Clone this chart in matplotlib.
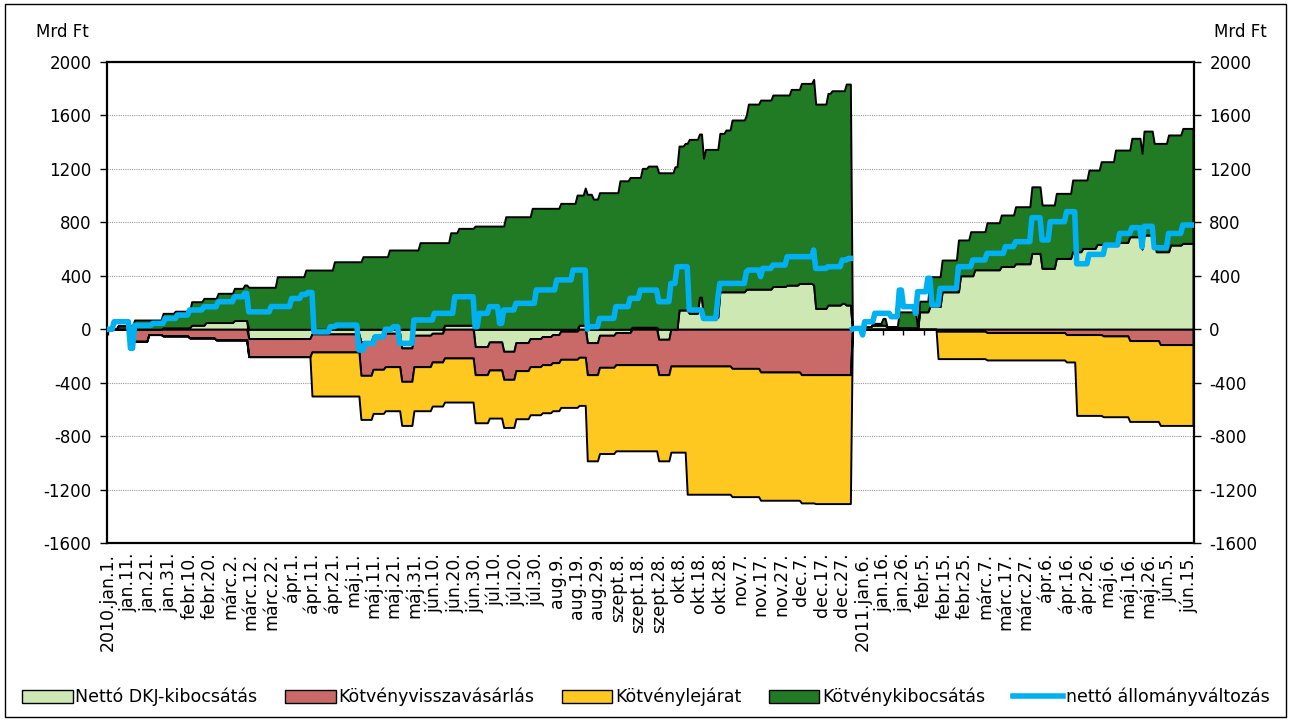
import numpy as np
import matplotlib.pyplot as plt
from matplotlib.patches import Patch, Rectangle
from matplotlib.lines import Line2D

plt.rcParams['font.family'] = ['DejaVu Sans']
plt.rcParams['axes.unicode_minus'] = False

# napok 2010.01.01-tol (0) 2011.06.17-ig (532), kumulalt ertekek, Mrd Ft
napok = np.arange(533)

dkj_nap = [0, 5, 13, 27, 41, 48, 62, 69, 100, 124, 130, 136, 144, 150, 159, 165,
           180, 187, 194, 200, 207, 213, 218, 222, 231, 235, 241, 249, 257, 270,
           276, 280, 285, 290, 292, 300, 313, 326, 333, 339, 346, 347, 353, 360, 362,
           365, 366, 375, 382, 388, 397, 398, 403, 409, 418, 425, 438, 445, 453,
           458, 465, 473, 478, 485, 494, 501, 507, 508, 514, 521, 527]
dkj_ertek = [0, 25, 0, 10, 30, 50, 65, -70, -35, -95, -50, -30, -140, -45, -30, 30,
             -130, -95, -165, -100, -70, -55, -40, -15, 30, -100, -45, -25, 15, -75,
             0, 144, 120, 240, 90, 280, 300, 320, 330, 343, 331, 156, 181, 194, 181,
             0, 20, 30, 15, 12, 0, 130, 170, 280, 400, 445, 470, 490, 568,
             456, 530, 580, 605, 635, 650, 692, 600, 705, 580, 630, 643]

kib_nap = [0, 5, 13, 27, 33, 41, 47, 48, 54, 62, 67, 69, 83, 97, 111, 125, 138,
           153, 165, 168, 172, 180, 195, 208, 222, 230, 231, 234, 235, 238, 241,
           251, 256, 257, 262, 265, 270, 278, 280, 283, 285, 290, 292, 293, 300,
           303, 306, 313, 314, 320, 326, 333, 335, 339, 340, 346, 347, 353, 355,
           360, 362,
           365, 375, 380, 382, 388, 397, 398, 403, 409, 417, 418, 423, 425, 431,
           438, 445, 453, 458, 465, 473, 478, 481, 485, 487, 494, 501, 502, 507,
           508, 513, 514, 520, 521, 527]
kib_ertek = [0, 0, 69, 109, 125, 176, 201, 181, 219, 241, 266, 314, 393, 443, 505,
             543, 593, 648, 618, 692, 725, 772, 842, 905, 942, 1004, 974, 1027,
             1010, 974, 1022, 1111, 1136, 1121, 1189, 1206, 1171, 1216, 1227, 1247,
             1301, 1221, 1189, 1256, 1186, 1211, 1286, 1303, 1385, 1415, 1433, 1423,
             1465, 1452, 1497, 1539, 1529, 1584, 1604, 1591, 1654,
             0, 14, 51, 4, 118, 0, 80, 223, 238, 388, 268, 330, 285, 352,
             385, 427, 498, 474, 487, 537, 512, 586, 556, 619, 691, 649, 737, 716,
             778, 686, 811, 874, 824, 860]

viss_nap = [0, 13, 20, 27, 40, 53, 69, 124, 150, 159, 180, 235, 257, 276, 306, 320,
            340, 365, 407, 431, 470, 488, 501, 516]
viss_ertek = [0, -90, -40, -50, -65, -80, -135, -250, -235, -215, -210, -240, -265,
              -275, -293, -320, -340, 0, -15, -25, -40, -50, -85, -115]

lej_nap = [0, 100, 180, 235, 284, 347, 365, 407, 475]
lej_ertek = [0, -330, -360, -645, -960, -965, 0, -205, -605]

netto_nap = [0, 3, 11, 13, 22, 28, 34, 40, 47, 54, 62, 67, 69, 80, 90, 95, 98, 101,
             109, 112, 123, 126, 131, 136, 140, 143, 150, 160, 170, 180, 182, 187,
             192, 194, 200, 210, 220, 228, 235, 236, 241, 249, 256, 261, 270, 276,
             279, 285, 292, 299, 300, 313, 314, 320, 321, 326, 333, 346, 347, 353,
             360, 363,
             365, 366, 370, 371, 376, 384, 388, 390, 396, 397, 402, 404, 408, 417,
             424, 431, 440, 445, 453, 458, 462, 470, 475, 481, 489, 496, 502, 507,
             508, 513, 520, 527]
netto_ertek = [0, 56, -143, 29, 44, 81, 106, 144, 168, 206, 243, 269, 130, 170, 230,
               260, 275, -20, 19, 31, -156, -106, -56, 0, 19, -106, 69, 119, 243, 19,
               119, 169, 44, 144, 194, 294, 369, 443, 0, 19, 81, 169, 231, 293, 206,
               343, 468, 144, 80, 231, 343, 430, 443, 393, 455, 480, 543, 593, 455,
               468, 518, 530,
               0, 6, -43, 56, 119, 94, 293, 169, 119, 281, 381, 181, 306, 468,
               518, 568, 618, 655, 835, 668, 805, 880, 490, 560, 630, 717, 760, 615,
               770, 610, 717, 780]

x_cimkek = ['2010.jan.1.', 'jan.11.', 'jan.21.', 'jan.31.', 'febr.10.', 'febr.20.',
            'márc.2.', 'márc.12.', 'márc.22.', 'ápr.1.', 'ápr.11.', 'ápr.21.',
            'máj.1.', 'máj.11.', 'máj.21.', 'máj.31.', 'jún.10.', 'jún.20.',
            'jún.30.', 'júl.10.', 'júl.20.', 'júl.30.', 'aug.9.', 'aug.19.',
            'aug.29.', 'szept.8.', 'szept.18.', 'szept.28.', 'okt.8.', 'okt.18.',
            'okt.28.', 'nov.7.', 'nov.17.', 'nov.27.', 'dec.7.', 'dec.17.',
            'dec.27.', '2011.jan.6.', 'jan.16.', 'jan.26.', 'febr.5.', 'febr.15.',
            'febr.25.', 'márc.7.', 'márc.17.', 'márc.27.', 'ápr.6.', 'ápr.16.',
            'ápr.26.', 'máj.6.', 'máj.16.', 'máj.26.', 'jún.5.', 'jún.15.']

c_dkj = '#CEE8B4'
c_viss = '#C96A69'
c_lej = '#FEC820'
c_kib = '#217A24'
c_netto = '#00B0F0'


def napi(nap, ertek):
    # az ertek a kovetkezo valtozasig ervenyes
    idx = np.searchsorted(np.array(nap), napok, side='right') - 1
    return np.array(ertek, dtype=float)[idx]


dkj = napi(dkj_nap, dkj_ertek)
kib = napi(kib_nap, kib_ertek)
viss = napi(viss_nap, viss_ertek)
lej = napi(lej_nap, lej_ertek)
netto = napi(netto_nap, netto_ertek)

poz = np.maximum(dkj, 0)
neg = np.minimum(dkj, 0)

fig = plt.figure(figsize=(12.92, 7.21), dpi=100)
ax = fig.add_axes([107 / 1292, 1 - 543 / 721, 1087 / 1292, 481 / 721])

ek = dict(edgecolor='black', linewidth=1.4)
ax.fill_between(napok, 0, dkj, facecolor=c_dkj, **ek, zorder=2)
ax.fill_between(napok, neg, neg + viss, facecolor=c_viss, **ek, zorder=2)
ax.fill_between(napok, neg + viss, neg + viss + lej, facecolor=c_lej, **ek, zorder=2)
ax.fill_between(napok, poz, poz + kib, facecolor=c_kib, **ek, zorder=2)

ev2010 = napok < 365
ax.plot(napok[ev2010], netto[ev2010], color=c_netto, lw=4, zorder=4)
ax.plot(napok[~ev2010], netto[~ev2010], color=c_netto, lw=4, zorder=4)

ax.set_xlim(-0.5, 532.5)
ax.set_ylim(-1600, 2000)
ax.set_yticks(range(-1600, 2001, 400))
ax.grid(axis='y', color='#9a9a9a', ls=(0, (1, 1)), lw=0.8, zorder=0)
ax.set_axisbelow(True)

ax.set_xticks(range(0, 533, 10))
ax.set_xticklabels(x_cimkek, rotation=90, ha='center', va='top', fontsize=12.5)
ax.tick_params(axis='x', length=0, pad=7)
ax.tick_params(axis='y', direction='out', length=5, width=1, left=True, right=True,
               labelleft=True, labelright=True, labelsize=12, pad=6)
for s in ax.spines.values():
    s.set_linewidth(1.6)

# vizszintes tengely a nulla szinten, 10 naponkenti jelolokkel
nulla = ax.secondary_xaxis(1600 / 3600)
nulla.set_xticks(range(0, 533, 10))
nulla.tick_params(axis='x', direction='out', length=4, width=1, labelbottom=False,
                  labeltop=False)
for s in nulla.spines.values():
    s.set_linewidth(1.5)

fig.text(62 / 1292, 1 - 32 / 721, 'Mrd Ft', ha='center', va='center', fontsize=12)
fig.text(1240 / 1292, 1 - 32 / 721, 'Mrd Ft', ha='center', va='center', fontsize=12)

kezelok = [Patch(facecolor=c_dkj, edgecolor='black', lw=1),
           Patch(facecolor=c_viss, edgecolor='black', lw=1),
           Patch(facecolor=c_lej, edgecolor='black', lw=1),
           Patch(facecolor=c_kib, edgecolor='black', lw=1),
           Line2D([], [], color=c_netto, lw=4)]
nevek = ['Nettó DKJ-kibocsátás', 'Kötvényvisszavásárlás', 'Kötvénylejárat',
         'Kötvénykibocsátás', 'nettó állományváltozás']
fig.legend(kezelok, nevek, loc='center', bbox_to_anchor=(0.5, 1 - 697 / 721), ncol=5,
           frameon=False, fontsize=12.5, handlelength=2.9, handleheight=0.75,
           handletextpad=0.15, columnspacing=1.6)

fig.patches.append(Rectangle((5 / 1292, 4 / 721), 1281 / 1292, 713 / 721,
                             transform=fig.transFigure, fill=False,
                             edgecolor='black', lw=1))

fig.savefig('out.png', dpi=100)
